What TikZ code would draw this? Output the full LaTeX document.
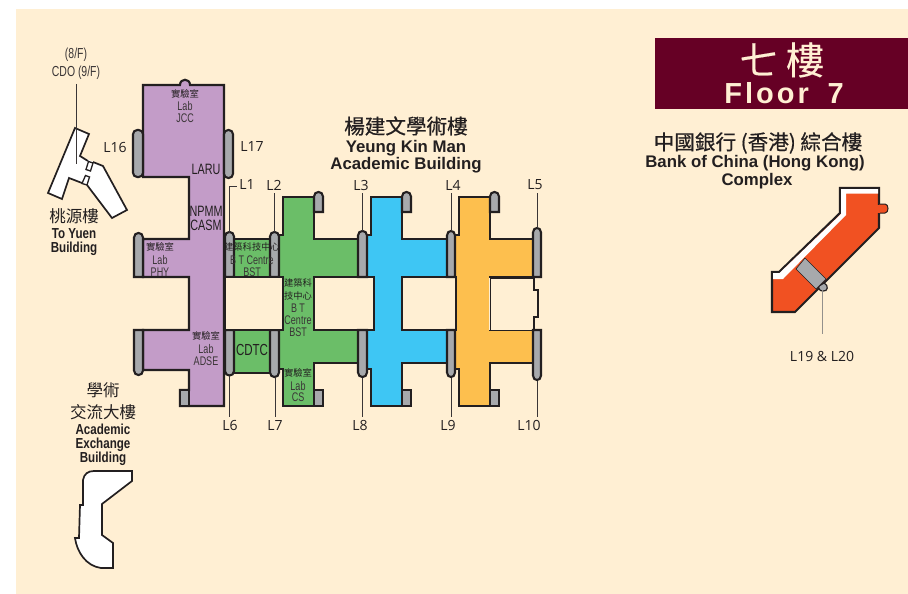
\documentclass[tikz,border=0pt]{standalone}
\usepackage{fontspec}
\setmainfont{Liberation Sans}
\newfontfamily\cjk{Noto Sans CJK TC}
\newfontfamily\cjkm[FakeBold=0.25]{Noto Sans CJK TC}
\newfontfamily\cjkb[FakeBold=0.5]{Noto Sans CJK TC}
\newfontfamily\cond[FakeStretch=0.72]{Liberation Sans}
\newfontfamily\condb[FakeStretch=0.8]{Liberation Sans}
\newfontfamily\lab{Open Sans}
\definecolor{cream}{HTML}{FFEFD3}
\definecolor{maroon}{HTML}{660025}
\definecolor{purp}{HTML}{C39CC8}
\definecolor{grn}{HTML}{6BBE68}
\definecolor{blu}{HTML}{3EC6F4}
\definecolor{org}{HTML}{FDBF4E}
\definecolor{gry}{HTML}{A7A9AC}
\definecolor{redo}{HTML}{F15122}
\definecolor{ink}{HTML}{231F20}
\definecolor{soft}{HTML}{3A3536}
\tikzset{
 wall/.style={draw=ink,line width=2.1pt,line join=miter},
 pad/.style={wall,fill=gry},
 padround/.style={wall,fill=gry,rounded corners=4.2pt},
 leader/.style={draw=soft,line width=0.85pt},
 leadertan/.style={draw=gray!85!cream,line width=1pt},
 lv/.style={font=\lab\fontsize{14}{15}\selectfont,text=ink,inner sep=0pt},
 rm/.style={font=\cjk\fontsize{9.3}{10}\selectfont,text=ink,inner sep=0pt},
 rl/.style={font=\cond\fontsize{12.5}{13}\selectfont,text=soft,inner sep=0pt},
 big/.style={font=\cond\fontsize{15}{16}\selectfont,text=ink,inner sep=0pt},
 hzh/.style={font=\cjk\fontsize{16.5}{18}\selectfont,text=ink,inner sep=0pt},
 hen/.style={font=\bfseries\fontsize{16.8}{18}\selectfont,text=ink,inner sep=0pt},
 sen/.style={font=\condb\bfseries\fontsize{14.5}{15}\selectfont,text=ink,inner sep=0pt},
}
% vertical pad: x from #1 to #2, flat end at y=#3, round tip at y=#4
\newcommand\vpad[4]{%
 \pgfmathsetmacro\sgn{(#3>#4)?1:-1}%
 \pgfmathsetmacro\shoulder{#4+4.5*\sgn}%
 \pgfmathsetmacro\ctrl{#4-1.5*\sgn}%
 \draw[pad] (#1,#3) -- (#1,\shoulder) .. controls (#1,\ctrl) and (#2,\ctrl) .. (#2,\shoulder) -- (#2,#3) -- cycle;%
}
\begin{document}
\begin{tikzpicture}[x=1pt,y=-1pt]
\useasboundingbox (0,0) rectangle (908,594);
\fill[white] (0,0) rectangle (908,594);
\fill[cream] (16,9.5) rectangle (908,594);
% title
\fill[maroon] (655,38) rectangle (908,109);
\node[inner sep=0pt,text=cream,font=\cjkm\fontsize{38}{40}\selectfont] (t1) at (782,60) {七 樓};
\node[inner sep=0pt,text=cream,font=\bfseries\fontsize{29}{30}\selectfont] (t2) at (784,93) {F\kern3pt l\kern3pt o\kern3pt o\kern3pt r\kern3pt\,\,\kern6pt 7};
% purple block
\draw[wall,fill=purp] (143,85) -- (180,85) .. controls (180,78) and (190,78) .. (190,85) -- (224,85) -- (224,406) -- (180,406) -- (180,390) -- (189,390) -- (189,370) -- (143,370) -- (143,330) -- (189,330) -- (189,277) -- (143,277) -- (143,239) -- (189,239) -- (189,177) -- (143,177) -- cycle;
\draw[pad] (180,390) rectangle (189,406);
\draw[padround] (133,177) -- (133,130) -- (143,130) -- (143,177) -- cycle;
\draw[padround] (224,178) -- (224,130) -- (233,130) -- (233,178) -- cycle;
\vpad{134}{143}{277}{233}
\vpad{134}{143}{330}{375}
% B T Centre wing
\draw[wall,fill=grn] (234,239) rectangle (270,277);
\draw[wall,fill=grn] (234,330) rectangle (270,373);
% green block
\draw[wall,fill=grn] (283,197) -- (314,197) -- (314,239) -- (358,239) -- (358,277) -- (314,277) -- (314,330) -- (358,330) -- (358,363) -- (314,363) -- (314,406) -- (283,406) -- (283,369) -- (279,369) -- (279,235) -- (283,235) -- cycle;
\vpad{225}{234}{277}{232}
\vpad{270}{279}{277}{232}
\vpad{225}{234}{330}{375.5}
\vpad{270}{279}{330}{377}
\draw[pad] (314,390) rectangle (323,406);
% blue block
\draw[wall,fill=blu] (371,197) -- (402,197) -- (402,239) -- (447,239) -- (447,277) -- (402,277) -- (402,330) -- (447,330) -- (447,363) -- (402,363) -- (402,406) -- (371,406) -- (371,369) -- (367,369) -- (367,235) -- (371,235) -- cycle;
\draw[pad] (402,390) rectangle (411,406);
% orange block
\draw[wall,fill=org] (459,197) -- (490,197) -- (490,239) -- (533,239) -- (533,277) -- (490,277) -- (490,330) -- (533,330) -- (533,363) -- (490,363) -- (490,406) -- (459,406) -- (459,369) -- (455,369) -- (455,235) -- (459,235) -- cycle;
\draw[pad] (490,390) rectangle (499,406);
% holes
\draw[wall,fill=cream] (225,277) rectangle (283,330);
\draw[wall,fill=cream] (314,277) rectangle (374,330);
\draw[wall,fill=cream] (402,277) rectangle (456,330);
\fill[cream] (489,278) rectangle (534,329.5);
\draw[draw=ink,line width=0.7pt] (534,278) -- (490,278) -- (490,330) -- (534,330);
\draw[wall] (534,277) -- (534,290) -- (538,290) -- (538,317) -- (534,317) -- (534,330);
% pads on the blocks
\vpad{314}{323}{212}{192}
\vpad{402}{411}{212}{192}
\vpad{490}{499}{212}{192}
\vpad{358}{367}{277}{231}
\vpad{358}{367}{330}{377}
\vpad{447}{455}{277}{231}
\vpad{447}{455}{330}{377}
\vpad{533}{541}{277}{228}
\vpad{533}{541}{330}{380}
% To Yuen
\fill[white] (75,128) -- (89,134) -- (80,156) -- (103,166) -- (127,210) -- (112,218) -- (87,185) -- (69,178) -- (62,199) -- (48,193) -- cycle;
\draw[wall,line width=1.7pt] (88,161) -- (80,156) -- (89,134) -- (75,128) -- (48,193) -- (62,199) -- (69,178) -- (82,183);
\draw[wall,line width=1.7pt] (93,162) -- (103,166) -- (127,210) -- (112,218) -- (87,185);
\draw[ink,line width=1.3pt,fill=white] (88.5,161.5) -- (93,163) -- (90.5,171) -- (86,169.5) -- cycle;
\draw[ink,line width=1.3pt,fill=white] (85.5,175.5) -- (89.5,177) -- (87,185) -- (82,183.5) -- cycle;
% Exchange
\draw[wall,line width=1.7pt,fill=white] (83,480) .. controls (84,474) and (88,471) .. (94,471) -- (132,471) -- (132,481) -- (102,504) -- (102,535) -- (113,543) -- (113,568) -- (101,568) .. controls (86,566) and (77,552) .. (75,538) -- (79,538) -- (80,505) -- (83,505) -- cycle;
% Bank
\draw[wall,fill=redo] (840,188) -- (879,188) -- (879,228) -- (795,312) -- (772,312) -- (772,272) -- (779,272) -- (840,213) -- cycle;
\fill[white] (841,189) -- (878,189) -- (878,193.5) -- (846,193.5) -- (846,215) -- (783,279) -- (773,279) -- (773,273) -- (779.5,273) -- (841,214) -- cycle;
\draw[wall,line width=1pt,fill=redo] (879,204) -- (885,204) .. controls (889,204) and (889,213) .. (885,213) -- (879,213);
\fill[redo] (877,204.5) rectangle (880,212.5);
\draw[wall,line width=1.2pt,fill=gry] (824,283) .. controls (829,285) and (828,292) .. (823,291) .. controls (820,291) and (818,289) .. (819,286) -- cycle;
\fill[gry,draw=ink,line width=0.6pt] (805,258) -- (826,279) -- (816,289) -- (796,269) -- cycle;
% leaders
\coordinate (cL1a) at (229,233); \coordinate (cL1b) at (229,186);
\node[lv] (nL1) at (247,185) {L1};
\draw[leader] (cL1a) -- (cL1b) -- ([xshift=-2pt]nL1.west|-cL1b);
\node[lv] (nL2) at (274,185) {L2};
\node[lv] (nL3) at (361,185) {L3};
\node[lv] (nL4) at (453,185) {L4};
\node[lv] (nL5) at (535,185) {L5};
\node[lv] (nL6) at (230,425) {L6};
\node[lv] (nL7) at (275,425) {L7};
\node[lv] (nL8) at (360,425) {L8};
\node[lv] (nL9) at (448,425) {L9};
\node[lv] (nL10) at (529,425) {L10};
\node[lv] (nL16) at (115,147) {L16};
\node[lv] (nL17) at (252,147) {L17};
\foreach \x/\a/\b in {274/232/193,362/231/193,451/231/193,537/228/193,229/376/417,275/378/417,362/378/417,451/378/417,537/381/417}{
 \draw[leader] (\x,\a) -- (\x,\b);
}
\coordinate (cB1) at (822,290); \coordinate (cB2) at (822,334);
\draw[leadertan] (cB1) -- (cB2);
\node[lv] (nB) at (822,356) {L19 \& L20};
% To Yuen label
\node[font=\cond\fontsize{14.5}{15}\selectfont,text=soft,inner sep=0pt] (f8) at (76,55) {(8/F)};
\node[font=\cond\fontsize{14.5}{15}\selectfont,text=soft,inner sep=0pt] (f9) at (76,72.5) {CDO (9/F)};
\coordinate (cY) at (76,164);
\draw[leader] (76,84) -- (cY);
\node[hzh] (y1) at (74,216) {桃源樓};
\node[sen] (y2) at (74,234) {To Yuen};
\node[sen] (y3) at (74,249) {Building};
% Exchange label
\node[hzh] (e1) at (103,390) {學術};
\node[hzh] (e2) at (103,412) {交流大樓};
\node[sen] (e3) at (103,429.5) {Academic};
\node[sen] (e4) at (103,445) {Exchange};
\node[sen] (e5) at (103,459) {Building};
% headers
\node[hzh,font=\cjkb\fontsize{20.6}{22}\selectfont] (a1) at (406,126) {楊建文學術樓};
\node[hen] (a2) at (406,148) {Yeung Kin Man};
\node[hen] (a3) at (406,165) {Academic Building};
\node[hzh,font=\cjkb\fontsize{20.6}{22}\selectfont] (b1) at (758,143) {中國銀行 (香港) 綜合樓};
\node[hen] (b2) at (755,163.5) {Bank of China (Hong Kong)};
\node[hen] (b3) at (757,181) {Complex};
% rooms
\node[rm] (j1) at (185,94) {實驗室};
\node[rl] (j2) at (185,106) {Lab};
\node[rl] (j3) at (185,118) {JCC};
\node[big] (r1) at (206,169) {LARU};
\node[big] (r2) at (206,211) {NPMM};
\node[big] (r3) at (206,225) {CASM};
\node[rm] (p1) at (160,247) {實驗室};
\node[rl] (p2) at (160,260) {Lab};
\node[rl] (p3) at (160,272) {PHY};
\node[rm] (c1) at (252,247) {建築科技中心};
\node[rl] (c2) at (252,260) {B T Centre};
\node[rl] (c3) at (252,272) {BST};
\node[rm] (d1) at (206,336) {實驗室};
\node[rl] (d2) at (206,349) {Lab};
\node[rl] (d3) at (206,361) {ADSE};
\node[big,font=\cond\fontsize{16}{17}\selectfont] (cd) at (252,350) {CDTC};
\node[rm] (g1) at (298,283) {建築科};
\node[rm] (g2) at (298,296) {技中心};
\node[rl] (g3) at (298,308) {B T};
\node[rl] (g4) at (298,320) {Centre};
\node[rl] (g5) at (298,332) {BST};
\node[rm] (s1) at (298,373) {實驗室};
\node[rl] (s2) at (298,386) {Lab};
\node[rl] (s3) at (298,397) {CS};
\end{tikzpicture}
\end{document}
